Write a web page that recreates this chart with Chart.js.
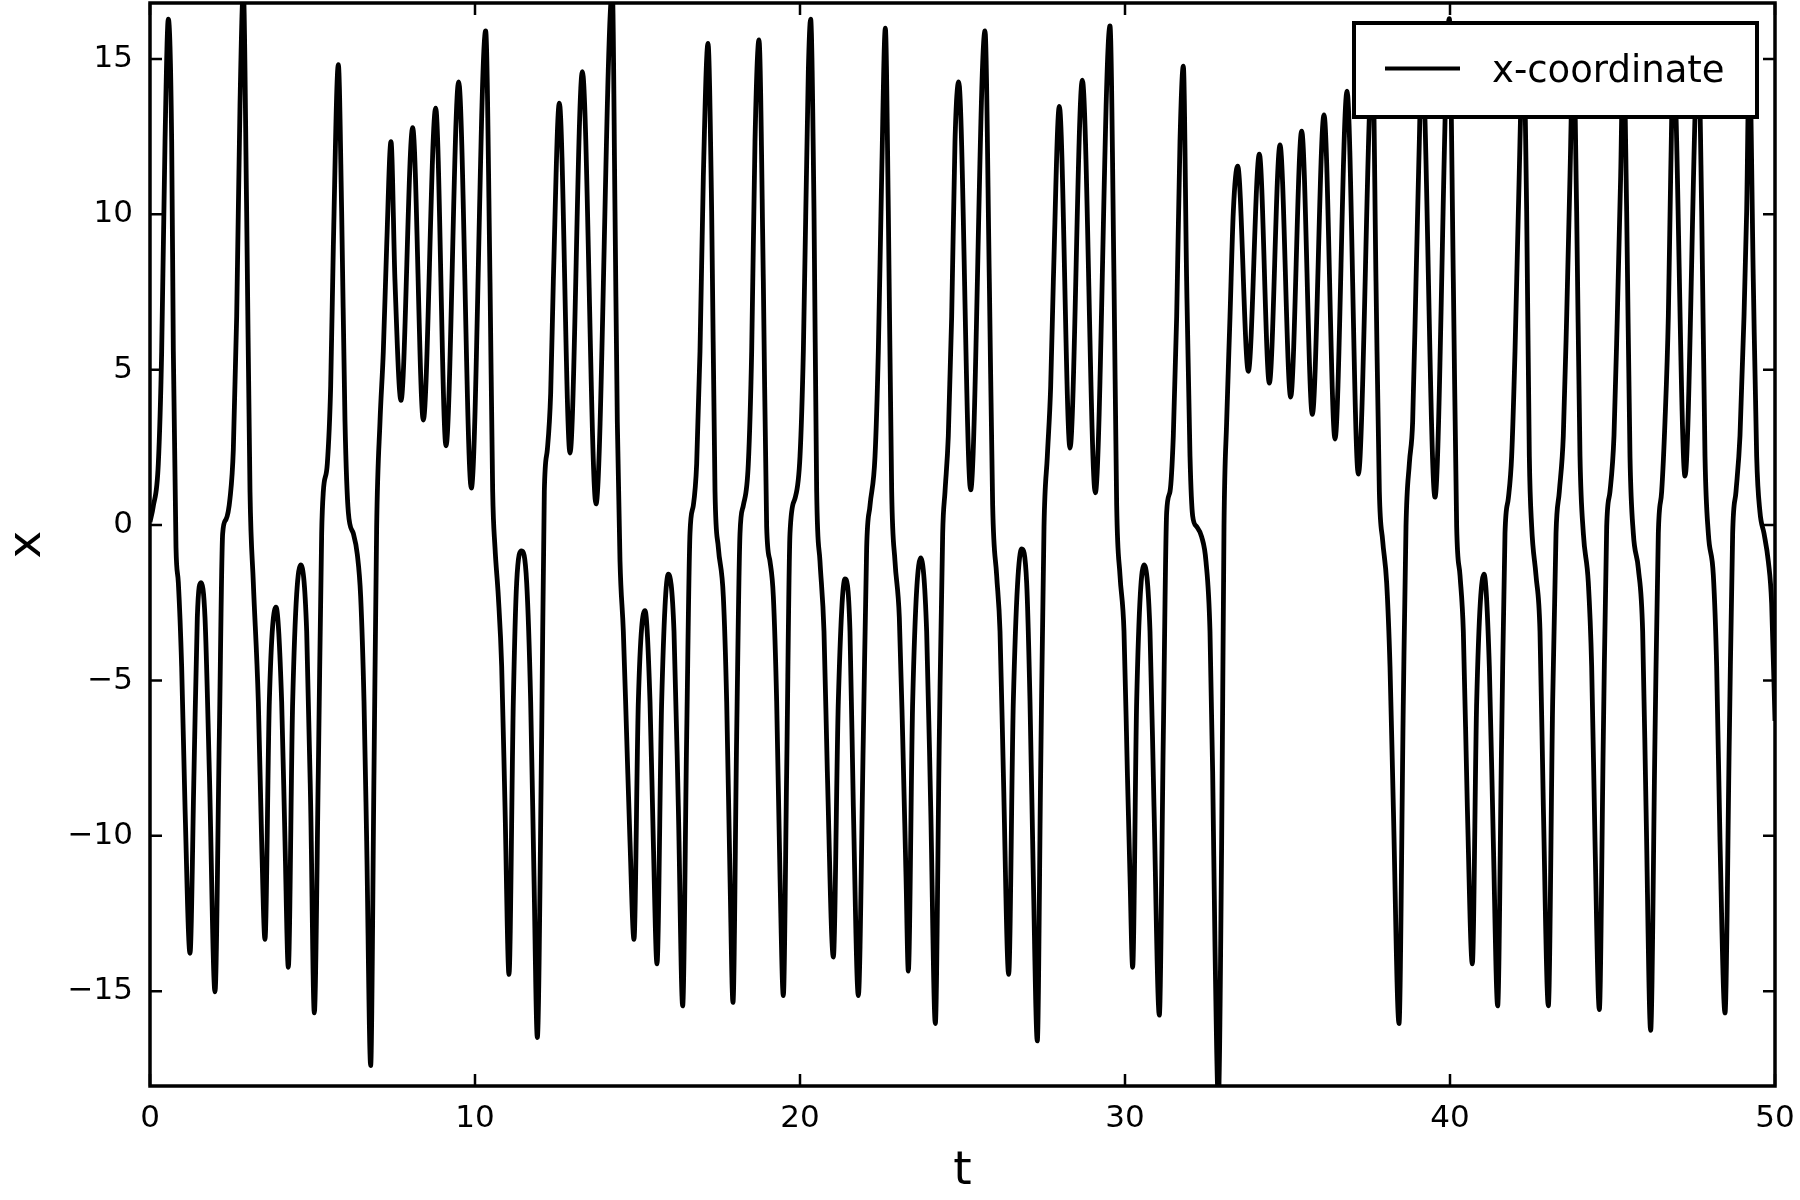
<!DOCTYPE html>
<html lang="en">
<head>
    <meta charset="UTF-8">
    <title>x-coordinate over time</title>
    <script src="https://cdn.jsdelivr.net/npm/chart.js"></script>
    <style>
        body {
            margin: 0;
            background-color: white;
        }
        canvas {
            display: block;
        }
    </style>
</head>
<body>
    <canvas id="grafico" width="1800" height="1200"></canvas>

    <script>
        // time samples (t) and x values
        const tValues = [
            0, 0.10, 0.256, 0.359, 0.462, 0.564, 0.667, 0.718, 0.8, 0.872, 0.974, 1.077, 1.231, 1.354, 1.456, 1.569, 1.692, 1.826,
            2.0, 2.133, 2.236, 2.338, 2.462, 2.564, 2.667, 2.769, 2.872, 2.974, 3.077, 3.179, 3.333, 3.436, 3.538, 3.672, 3.877,
            4.051, 4.154, 4.256, 4.39, 4.636, 4.821, 4.944, 5.056, 5.179, 5.282, 5.333, 5.456, 5.559, 5.641, 5.795, 5.897, 6.0,
            6.103, 6.256, 6.379, 6.482, 6.585, 6.667, 6.79, 6.892, 6.974, 7.077, 7.179, 7.282, 7.415, 7.538, 7.723, 8.082, 8.41,
            8.79, 9.108, 9.497, 9.887, 10.328, 10.462, 10.544, 10.615, 10.718, 10.821, 10.923, 11.046, 11.179, 11.282, 11.436,
            11.59, 11.713, 11.815, 11.918, 12.051, 12.133, 12.226, 12.328, 12.41, 12.595, 12.923, 13.303, 13.723, 14.226, 14.308,
            14.379, 14.462, 14.564, 14.667, 14.769, 14.892, 15.026, 15.231, 15.385, 15.487, 15.6, 15.744, 15.949, 16.123, 16.256,
            16.39, 16.513, 16.615, 16.718, 16.821, 16.923, 17.026, 17.169, 17.282, 17.385, 17.487, 17.641, 17.744, 17.846, 17.938,
            18.051, 18.154, 18.256, 18.41, 18.513, 18.615, 18.738, 18.872, 18.974, 19.077, 19.18, 19.282, 19.385, 19.487, 19.59,
            19.692, 19.846, 20.0, 20.103, 20.256, 20.328, 20.431, 20.513, 20.615, 20.738, 20.841, 21.026, 21.179, 21.385, 21.538,
            21.641, 21.795, 21.949, 22.051, 22.154, 22.308, 22.41, 22.513, 22.626, 22.718, 22.821, 22.923, 23.056, 23.159, 23.262,
            23.333, 23.467, 23.713, 23.897, 24.021, 24.164, 24.287, 24.39, 24.462, 24.564, 24.667, 24.769, 24.882, 25.251, 25.692,
            25.826, 25.928, 26.051, 26.154, 26.256, 26.421, 26.564, 26.821, 26.974, 27.077, 27.179, 27.302, 27.405, 27.508, 27.61,
            27.713, 27.795, 27.979, 28.308, 28.687, 29.087, 29.538, 29.662, 29.744, 29.846, 29.969, 30.072, 30.154, 30.236, 30.359,
            30.585, 30.769, 30.892, 31.056, 31.179, 31.282, 31.385, 31.487, 31.59, 31.692, 31.795, 31.897, 32.0, 32.082, 32.205,
            32.359, 32.492, 32.615, 32.697, 32.769, 32.872, 32.974, 33.046, 33.128, 33.231, 33.333, 33.467, 33.795, 34.133, 34.441,
            34.769, 35.097, 35.436, 35.764, 36.123, 36.462, 36.831, 37.179, 37.621, 37.723, 37.826, 37.928, 38.051, 38.154, 38.256,
            38.431, 38.564, 38.646, 38.749, 38.851, 38.954, 39.056, 39.128, 39.538, 39.979, 40.103, 40.205, 40.308, 40.41, 40.533,
            40.687, 40.821, 41.046, 41.21, 41.333, 41.467, 41.59, 41.692, 41.795, 41.897, 42.0, 42.103, 42.256, 42.359, 42.441,
            42.513, 42.646, 42.769, 42.872, 43.026, 43.159, 43.262, 43.364, 43.487, 43.59, 43.692, 43.795, 43.897, 44.0, 44.103,
            44.256, 44.359, 44.462, 44.595, 44.718, 44.821, 44.923, 45.046, 45.148, 45.251, 45.333, 45.436, 45.538, 45.641, 45.795,
            45.928, 46.031, 46.174, 46.308, 46.41, 46.513, 46.615, 46.718, 46.79, 46.872, 47.231, 47.641, 47.744, 47.846, 47.949,
            48.103, 48.205, 48.308, 48.462, 48.595, 48.697, 48.8, 48.923, 49.046, 49.128, 49.21, 49.333, 49.436, 49.538, 49.662,
            49.795, 49.897, 50
        ];
        const xValues = [
            0.1, 0.6, 1.98, 5.59, 12.34, 16.28, 12.34, 5.59, -0.72, -1.85, -4.55, -9.05, -13.78, -7.93, -2.97, -1.85, -2.97, -7.93,
            -15.02, -6.8, -0.27, 0.18, 0.86, 2.43, 6.71, 13.5, 17.2, 10.09, 1.08, -1.85, -5.68, -10.18, -13.33, -5.68, -2.64,
            -5.68, -10.18, -14.23, -5.68, -1.28, -3.42, -9.05, -15.7, -7.93, -0.27, 1.08, 1.98, 4.46, 8.96, 14.82, 10.09, 3.33,
            0.41, -0.27, -0.95, -2.3, -5.68, -10.18, -17.39, -7.93, -0.05, 3.33, 5.59, 8.96, 12.34, 7.84, 4.01, 12.79, 3.38,
            13.42, 2.55, 14.26, 1.19, 15.9, 7.84, 1.08, -0.72, -2.3, -4.55, -9.05, -14.46, -5.68, -1.85, -0.83,
            -1.85, -5.68, -11.31, -16.49, -6.8, 1.08, 2.43, 4.23, 7.84, 13.58, 2.32, 14.59, 0.68, 17.2, 10.09,
            3.33, -1.17, -3.42, -6.8, -10.18, -13.33, -5.68, -2.75, -5.68, -10.18, -14.12, -5.68, -1.58, -3.42, -9.05,
            -15.47, -6.8, -0.27, 0.63, 1.98, 5.59, 11.22, 15.5, 10.09, 1.08, -0.72, -2.3, -5.68, -11.31, -15.36,
            -6.8, -0.27, 0.63, 1.98, 5.59, 12.34, 15.61, 7.84, -0.05, -1.17, -2.3, -5.68, -11.31, -15.14, -7.93,
            -0.27, 0.86, 2.21, 5.59, 14.59, 16.28, 10.09, 1.08, -1.17, -3.42, -7.93, -13.9, -5.68, -1.73, -3.42,
            -9.05, -15.14, -6.8, -0.72, 0.63, 2.21, 5.59, 11.22, 15.99, 10.09, 1.08, -1.17, -2.97, -6.8, -11.31,
            -14.35, -5.68, -1.06, -3.42, -9.05, -16.04, -6.8, -0.27, 1.08, 2.88, 6.71, 12.34, 14.26, 1.13, 15.9,
            7.84, 0.63, -1.62, -3.42, -7.93, -14.46, -5.68, -0.77, -1.85, -5.68, -11.31, -16.6, -7.93, -0.05, 2.21,
            4.46, 7.84, 13.47, 2.48, 14.32, 1.04, 16.06, 7.84, 0.63, -1.62, -3.42, -7.93, -11.31, -14.23, -5.68,
            -1.28, -3.42, -9.05, -15.77, -6.8, 0.41, 1.08, 2.88, 6.71, 12.34, 14.77, 7.84, 2.21, 0.29, -0.05,
            -0.38, -1.17, -3.42, -7.93, -13.56, -18.5, -10.18, -0.05, 3.33, 6.71, 10.09, 11.55, 4.95, 11.94, 4.57,
            12.23, 4.12, 12.68, 3.56, 13.2, 2.77, 13.96, 1.64, 15.0, 7.84, 1.08, -0.5, -1.85, -4.55, -9.05,
            -16.04, -5.68, -0.05, 1.98, 3.33, 7.84, 12.34, 15.3, 0.9, 16.3, 7.84, -0.05, -1.62, -3.42, -9.05,
            -14.12, -5.68, -1.58, -4.55, -10.18, -15.47, -6.8, -0.27, 0.86, 2.21, 5.59, 10.09, 15.5, 10.09, 2.21,
            -0.05, -1.62, -3.42, -9.05, -15.47, -5.68, -0.27, 1.08, 2.88, 6.71, 11.22, 15.5, 10.09, 2.21, -0.27,
            -1.85, -4.55, -10.18, -15.59, -6.8, -0.05, 1.08, 2.88, 6.71, 11.22, 15.5, 10.09, 2.21, -0.27, -1.4,
            -3.42, -9.05, -16.26, -6.8, -0.27, 1.08, 3.33, 6.71, 11.22, 15.0, 1.58, 15.3, 10.09, 2.21, -0.27,
            -1.62, -4.55, -10.18, -15.7, -6.8, -0.27, 1.08, 2.88, 6.71, 10.09, 15.2, 7.84, 2.21, 0.41, -0.27,
            -1.17, -2.52, -6.3
        ];
        const xTicks = [0, 10, 20, 30, 40, 50];
        const yTicks = [-15, -10, -5, 0, 5, 10, 15];
        const seriesLabel = 'x-coordinate';

        const fuente = "'DejaVu Sans', sans-serif";

        function formatoNumero(v) {
            return v < 0 ? '\u2212' + Math.abs(v) : String(v);
        }

        // no extra room for edge labels, the plot box is fixed
        function sinRelleno(s) {
            s.paddingTop = 0;
            s.paddingBottom = 0;
            s.paddingLeft = 0;
            s.paddingRight = 0;
        }

        // frame and inward ticks on all four sides
        const marcoPlugin = {
            id: 'marco',
            afterDatasetsDraw(chart) {
                const { ctx, chartArea: a, scales } = chart;
                const largo = 12;
                ctx.save();
                ctx.strokeStyle = '#000';
                ctx.lineWidth = 2.5;
                ctx.beginPath();
                xTicks.forEach(v => {
                    const px = scales.x.getPixelForValue(v);
                    ctx.moveTo(px, a.bottom);
                    ctx.lineTo(px, a.bottom - largo);
                    ctx.moveTo(px, a.top);
                    ctx.lineTo(px, a.top + largo);
                });
                yTicks.forEach(v => {
                    const py = scales.y.getPixelForValue(v);
                    ctx.moveTo(a.left, py);
                    ctx.lineTo(a.left + largo, py);
                    ctx.moveTo(a.right, py);
                    ctx.lineTo(a.right - largo, py);
                });
                ctx.stroke();
                ctx.lineWidth = 3.5;
                ctx.strokeRect(a.left, a.top, a.right - a.left, a.bottom - a.top);
                ctx.restore();
            }
        };

        // legend box in the upper right corner, drawn over the line
        const leyendaPlugin = {
            id: 'leyenda',
            afterDraw(chart) {
                const { ctx, chartArea: a } = chart;
                const ancho = 403, alto = 94;
                const x0 = a.right - 18 - ancho;
                const y0 = a.top + 20;
                ctx.save();
                ctx.fillStyle = '#fff';
                ctx.fillRect(x0, y0, ancho, alto);
                ctx.strokeStyle = '#000';
                ctx.lineWidth = 4;
                ctx.strokeRect(x0, y0, ancho, alto);
                ctx.beginPath();
                ctx.moveTo(x0 + 31, y0 + 45.5);
                ctx.lineTo(x0 + 106, y0 + 45.5);
                ctx.stroke();
                ctx.fillStyle = '#000';
                ctx.font = '37px ' + fuente;
                ctx.textBaseline = 'alphabetic';
                ctx.textAlign = 'left';
                ctx.fillText(seriesLabel, x0 + 138, y0 + 59);
                ctx.restore();
            }
        };

        const puntos = tValues.map((t, i) => ({ x: t, y: xValues[i] }));

        const ctx = document.getElementById('grafico').getContext('2d');
        new Chart(ctx, {
            type: 'line',
            data: {
                datasets: [{
                    label: seriesLabel,
                    data: puntos,
                    borderColor: '#000',
                    borderWidth: 4.8,
                    pointRadius: 0,
                    fill: false,
                    cubicInterpolationMode: 'monotone',
                    clip: 0
                }]
            },
            options: {
                responsive: false,
                animation: false,
                devicePixelRatio: 1,
                layout: {
                    padding: { left: 0, right: 25, top: 3, bottom: 0 }
                },
                plugins: {
                    legend: { display: false },
                    tooltip: { enabled: false }
                },
                scales: {
                    x: {
                        type: 'linear',
                        min: 0,
                        max: 50,
                        grid: { display: false, drawTicks: false },
                        border: { display: false },
                        afterBuildTicks: s => { s.ticks = xTicks.map(v => ({ value: v })); },
                        afterFit: s => { s.height = 114; sinRelleno(s); },
                        ticks: {
                            color: '#000',
                            padding: 14,
                            maxRotation: 0,
                            font: { family: fuente, size: 31 },
                            callback: v => formatoNumero(v)
                        },
                        title: {
                            display: true,
                            text: 't',
                            color: '#000',
                            padding: 0,
                            font: { family: fuente, size: 47 }
                        }
                    },
                    y: {
                        type: 'linear',
                        min: -18.05,
                        max: 16.8,
                        grid: { display: false, drawTicks: false },
                        border: { display: false },
                        afterBuildTicks: s => { s.ticks = yTicks.map(v => ({ value: v })); },
                        afterFit: s => { s.width = 150; sinRelleno(s); },
                        ticks: {
                            color: '#000',
                            padding: 17,
                            font: { family: fuente, size: 31 },
                            callback: v => formatoNumero(v)
                        },
                        title: {
                            display: true,
                            text: 'x',
                            color: '#000',
                            padding: 0,
                            font: { family: fuente, size: 47 }
                        }
                    }
                }
            },
            plugins: [marcoPlugin, leyendaPlugin]
        });
    </script>
</body>
</html>
